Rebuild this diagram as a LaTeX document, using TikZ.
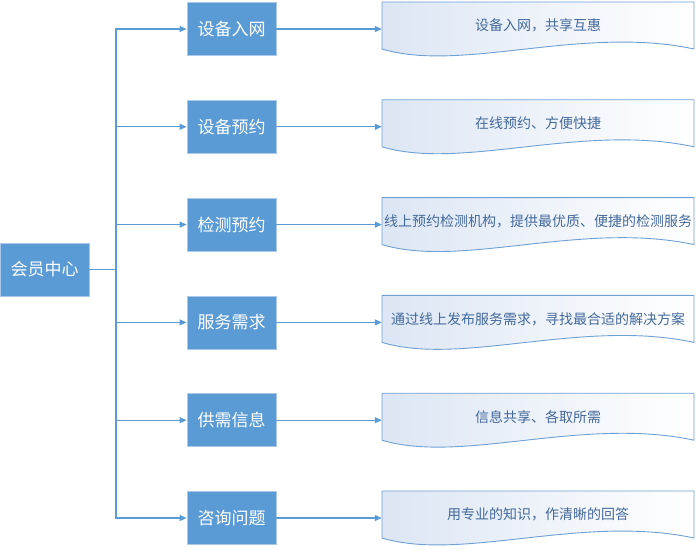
\documentclass[tikz,border=0pt]{standalone}
\usepackage{fontspec}
\setmainfont{Noto Sans CJK SC}
\usepackage{xcolor}
\usetikzlibrary{arrows.meta, calc}

\definecolor{BoxBlue}{RGB}{91,155,213}
\definecolor{BoxEdge}{RGB}{170,200,232}
\definecolor{LinkBlue}{RGB}{91,155,213}
\definecolor{NoteEdge}{RGB}{110,160,212}
\definecolor{NoteFill}{RGB}{220,230,244}
\definecolor{NoteText}{RGB}{68,105,155}

\begin{document}
\begin{tikzpicture}[x=1pt, y=-1pt,
  box/.style={draw=BoxEdge, line width=0.8pt, fill=BoxBlue, text=white, minimum width=89pt, minimum height=53pt, inner sep=0pt, font=\fontsize{17}{20}\selectfont},
  note/.style={minimum width=312pt, minimum height=47pt, inner sep=0pt, text=NoteText, font=\fontsize{14}{17}\selectfont},
  noteline/.style={draw=NoteEdge, line width=0.9pt, left color=NoteFill, right color=white},
  link/.style={draw=LinkBlue, line width=1.2pt},
  arrow/.style={link, -{Triangle[length=7pt, width=6pt]}}]
  \useasboundingbox (0,0) rectangle (700,548);

  % wavy note outlines
  \foreach \t in {2,99.8,197.6,295.4,393.2,491}
    \draw[noteline] (382,\t) -- (694,\t) -- (694,\t+47) .. controls (582,\t+23) and (462,\t+71) .. (382,\t+47) -- cycle;

  \node[box] (hub) at (44.5,269.5) {会员中心};
  \node[box] (item1) at (231.5,29) {设备入网};
  \node[box] (item2) at (231.5,126.8) {设备预约};
  \node[box] (item3) at (231.5,224.6) {检测预约};
  \node[box] (item4) at (231.5,322.4) {服务需求};
  \node[box] (item5) at (231.5,420.2) {供需信息};
  \node[box] (item6) at (231.5,518) {咨询问题};

  \node[note] (note1) at (538,25.5) {设备入网，共享互惠};
  \node[note] (note2) at (538,123.3) {在线预约、方便快捷};
  \node[note] (note3) at (538,221.1) {线上预约检测机构，提供最优质、便捷的检测服务};
  \node[note] (note4) at (538,318.9) {通过线上发布服务需求，寻找最合适的解决方案};
  \node[note] (note5) at (538,416.7) {信息共享、各取所需};
  \node[note] (note6) at (538,514.5) {用专业的知识，作清晰的回答};

  \coordinate (trunk) at (116,269.5);
  \draw[link] (hub.east) -- (trunk);
  \foreach \i in {1,...,6} {
    \draw[arrow] (trunk) |- (item\i.west);
    \draw[arrow] (item\i.east) -- (item\i.east -| note\i.west);
  }
\end{tikzpicture}
\end{document}
